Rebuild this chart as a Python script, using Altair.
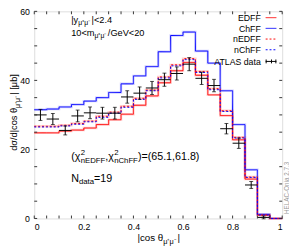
import altair as alt
import pandas as pd

# ---------------- data ----------------
bin_lo = [0.00, 0.05, 0.10, 0.15, 0.20, 0.25, 0.30, 0.35, 0.40, 0.45,
          0.50, 0.55, 0.60, 0.65, 0.70, 0.75, 0.80, 0.85, 0.90]
bin_end = [0.95, 1.00]

edff = [24.8, 24.8, 25.3, 25.6, 26.2, 27.2, 28.6, 30.2, 32.8, 35.5,
        39.3, 42.8, 45.2, 41.5, 35.8, 29.8, 22.8, 11.4, 1.0]
chff = [31.5, 31.7, 32.3, 33.0, 34.0, 35.0, 36.5, 39.0, 41.3, 44.0,
        48.3, 53.0, 54.0, 48.5, 45.0, 37.0, 27.2, 14.1, 1.2]
nedff = [26.7, 26.7, 27.0, 27.5, 28.2, 29.6, 30.8, 32.5, 34.8, 37.2,
         41.0, 44.5, 46.3, 42.6, 37.6, 31.2, 23.5, 12.0, 1.0]
nchff = [26.5, 26.5, 26.8, 27.3, 28.0, 29.3, 30.5, 32.2, 34.5, 37.0,
         40.7, 44.2, 46.0, 42.3, 37.3, 31.0, 23.3, 11.9, 1.0]

data_x = [0.025, 0.075, 0.125, 0.175, 0.225, 0.275, 0.325, 0.375, 0.425, 0.475,
          0.525, 0.575, 0.625, 0.675, 0.725, 0.775, 0.825, 0.875, 0.925]
data_y = [30.0, 28.8, 25.5, 29.7, 30.6, 30.5, 30.5, 35.2, 36.3, 37.8,
          40.2, 42.0, 44.7, 40.6, 38.5, 26.0, 21.8, 9.7, 0.3]
data_err = [1.6, 1.6, 1.3, 1.7, 1.7, 1.7, 1.7, 1.8, 1.8, 1.9,
            1.9, 1.9, 1.9, 1.8, 1.8, 1.5, 1.5, 1.0, 0.4]
half_bin = 0.025

series_names = ["EDFF", "ChFF", "nEDFF", "nChFF"]
series_vals = [edff, chff, nedff, nchff]
series_colors = ["#ff0000", "#0000ff", "#ff0000", "#0000ff"]
series_dash = [[1, 0], [1, 0], [2, 2], [2, 2]]
band_colors = ["#ff8888", "#8888ff", "#ff8888", "#8888ff"]
band_on = [True, True, True, False]

x_ticks = [0.0, 0.05, 0.1, 0.15, 0.2, 0.25, 0.3, 0.35, 0.4, 0.45, 0.5,
           0.55, 0.6, 0.65, 0.7, 0.75, 0.8, 0.85, 0.9, 0.95, 1.0]
x_labels = [0.0, 0.2, 0.4, 0.6, 0.8, 1.0]
y_ticks = [0, 5, 10, 15, 20, 25, 30, 35, 40, 45, 50, 55, 60]
y_labels = [0, 20, 40, 60]

W, H = 255, 213
FONT = "Liberation Sans"

# ---------------- tables ----------------
rows = []
for name, vals, c, bc, on in zip(series_names, series_vals, series_colors, band_colors, band_on):
    for xl, v in zip(bin_lo, vals):
        rows.append({"s": name, "x": xl, "y": v, "c": c, "bc": bc, "band": on})
    for xe in bin_end:
        rows.append({"s": name, "x": xe, "y": 0.0, "c": c, "bc": bc, "band": on})
lines_df = pd.DataFrame(rows)

pts = pd.DataFrame({
    "x": data_x, "y": data_y,
    "lo": [y - e for y, e in zip(data_y, data_err)],
    "hi": [y + e for y, e in zip(data_y, data_err)],
    "xl": [x - half_bin for x in data_x],
    "xh": [x + half_bin for x in data_x],
})

xs = alt.Scale(domain=[0, 1], nice=False, zero=False)
ys = alt.Scale(domain=[0, 60], nice=False, zero=False)
dash_s = alt.Scale(domain=series_names, range=series_dash)

base = alt.Chart(lines_df)

xaxis = alt.Axis(values=x_labels, ticks=False, domain=False, grid=False, title=None,
                 labelFont=FONT, labelFontSize=9, labelColor="black", labelPadding=4,
                 labelExpr="datum.value == 0 ? '0' : datum.value == 1 ? '1' : format(datum.value, '.1f')")
yaxis = alt.Axis(values=y_labels, ticks=False, domain=False, grid=False, title=None,
                 labelFont=FONT, labelFontSize=9, labelColor="black", labelPadding=5)

bands = base.transform_filter("datum.band").mark_line(
    interpolate="step-after", strokeWidth=2.5, opacity=0.4).encode(
    x=alt.X("x:Q", scale=xs, axis=xaxis),
    y=alt.Y("y:Q", scale=ys, axis=yaxis),
    color=alt.Color("bc:N", scale=None),
    detail="s:N",
    order=alt.Order("x:Q"),
)

lines = base.mark_line(interpolate="step-after", strokeWidth=1).encode(
    x=alt.X("x:Q", scale=xs),
    y=alt.Y("y:Q", scale=ys),
    color=alt.Color("c:N", scale=None),
    detail="s:N",
    strokeDash=alt.StrokeDash("s:N", scale=dash_s, legend=None),
    order=alt.Order("x:Q"),
)

pbase = alt.Chart(pts)
vbar = pbase.mark_rule(color="black", strokeWidth=1).encode(
    x=alt.X("x:Q", scale=xs), y=alt.Y("lo:Q", scale=ys), y2="hi:Q")
hbar = pbase.mark_rule(color="black", strokeWidth=1).encode(
    x=alt.X("xl:Q", scale=xs), x2="xh:Q", y=alt.Y("y:Q", scale=ys))
cap_lo = pbase.mark_tick(color="black", orient="horizontal", size=4, thickness=1).encode(
    x=alt.X("x:Q", scale=xs), y=alt.Y("lo:Q", scale=ys))
cap_hi = pbase.mark_tick(color="black", orient="horizontal", size=4, thickness=1).encode(
    x=alt.X("x:Q", scale=xs), y=alt.Y("hi:Q", scale=ys))

# inward ticks
yt = pd.DataFrame({"v": y_ticks})
xt = pd.DataFrame({"v": x_ticks})
tick_col = "#333333"
ytl = alt.Chart(yt).mark_rule(color=tick_col, strokeWidth=1).encode(
    y=alt.Y("v:Q", scale=ys), x=alt.value(0), x2=alt.value(3))
ytr = alt.Chart(yt).mark_rule(color=tick_col, strokeWidth=1).encode(
    y=alt.Y("v:Q", scale=ys), x=alt.value(W - 3), x2=alt.value(W))
xtb = alt.Chart(xt).mark_rule(color=tick_col, strokeWidth=1).encode(
    x=alt.X("v:Q", scale=xs), y=alt.value(H), y2=alt.value(H - 3))
xtt = alt.Chart(xt).mark_rule(color=tick_col, strokeWidth=1).encode(
    x=alt.X("v:Q", scale=xs), y=alt.value(0), y2=alt.value(3))

# ---------------- rich text helper ----------------
EM = {"|": .26, "y": .5, "<": .584, ">": .584, "2": .556, ".": .278, "4": .556, "μ": .576,
      "⁺": .4, "⁻": .4, "+": .584, "-": .333, "1": .556, "0": .556, "m": .833, "/": .278,
      "G": .778, "e": .556, "V": .667, "d": .556, "σ": .6, "c": .5, "o": .556, "s": .5,
      " ": .278, "θ": .556, "[": .278, "b": .556, "]": .278, "(": .333, ")": .333,
      "χ": .55, "n": .556, "E": .667, "D": .722, "F": .611, "C": .722, "h": .556,
      ",": .278, "=": .584, "5": .556, "6": .556, "8": .556, "N": .722, "a": .556,
      "t": .278, "9": .556}


def tw(s, size):
    return sum(EM.get(c, 0.556) for c in s) * size


def rich(groups, x0, y0, rotated=False, center=False):
    """groups: list of lists of (text, size, shift). Items of one group share the start."""
    total = 0.0
    for g in groups:
        total += max(tw(t, sz) for t, sz, sh in g)
    pos = -total / 2 if center else 0.0
    out = []
    for g in groups:
        for t, sz, sh in g:
            if rotated:
                out.append({"t": t, "fs": sz, "px": x0 + sh, "py": y0 - pos})
            else:
                out.append({"t": t, "fs": sz, "px": x0 + pos, "py": y0 + sh})
        pos += max(tw(t, sz) for t, sz, sh in g)
    return out


def text_layer(rows_, angle=0, color="black"):
    df = pd.DataFrame(rows_)
    kw = dict(align="left", baseline="alphabetic", font=FONT, color=color)
    if angle:
        kw["angle"] = angle
    return alt.Chart(df).mark_text(**kw).encode(
        x=alt.X("px:Q", scale=None), y=alt.Y("py:Q", scale=None),
        text="t:N", size=alt.Size("fs:Q", scale=None, legend=None))


OX, OY = 35, 8  # page position of plot origin
S, SS = 9.5, 7.0
sub = "μ⁺μ⁻"

ann = []
ann += rich([[("|y", S, 0)], [(sub, SS, 2.5)], [("|<2.4", S, 0)]], 73 - OX, 20 - OY)
ann += rich([[("10<m", S, 0)], [(sub, SS, 2.5)], [("/GeV<20", S, 0)]], 73 - OX, 33 - OY)
F, FS = 11, 8
ann += rich([[("(χ", F, 0)], [("2", FS, -5), ("nEDFF", FS, 3)], [(",χ", F, 0)],
             [("2", FS, -5), ("nChFF", FS, 3)], [(")=(65.1,61.8)", F, 0)]], 73 - OX, 161 - OY)
ann += rich([[("N", F, 0)], [("data", FS, 3)], [("=19", F, 0)]], 73 - OX, 183 - OY)
# x title
T, TS = 10, 7.5
ann += rich([[("|cos θ", T, 0)], [(sub, TS, 3)], [("|", T, 0)]], 163 - OX, 244 - OY, center=True)
ann_layer = text_layer(ann)

ytitle = rich([[("dσ/d|cos θ", 9.5, 0)], [(sub, 7, 3)], [("| [μb]", 9.5, 0)]],
              17 - OX, 112 - OY, rotated=True, center=True)
ytitle_layer = text_layer(ytitle, angle=270)

helac = rich([[("HELAC-Onia 2.7.3", 6.5, 0)]], 297 - OX, 190 - OY, rotated=True, center=True)
helac_layer = text_layer(helac, angle=270, color="#999999")

# ---------------- legend ----------------
leg_rows = [14.5, 25.5, 36.5, 47.5, 59.5]
leg_text = pd.DataFrame({"t": series_names + ["ATLAS data"],
                         "px": [268 - OX] * 5,
                         "py": [r - OY + 3.5 for r in leg_rows]})
leg_text_layer = alt.Chart(leg_text).mark_text(align="right", baseline="alphabetic", font=FONT,
                                               fontSize=9, color="black").encode(
    x=alt.X("px:Q", scale=None), y=alt.Y("py:Q", scale=None), text="t:N")

one = pd.DataFrame({"k": [0]})
lx0, lx1 = 273 - OX, 284 - OX
leg_layers = []
for i, (c, d) in enumerate(zip(series_colors, series_dash)):
    yy = leg_rows[i] - OY
    leg_layers.append(alt.Chart(one).mark_rule(color=c, strokeDash=d, strokeWidth=1).encode(
        x=alt.value(lx0), x2=alt.value(lx1), y=alt.value(yy)))
yy = leg_rows[4] - OY
leg_layers.append(alt.Chart(one).mark_rule(color="black", strokeWidth=1).encode(
    x=alt.value(lx0), x2=alt.value(lx1), y=alt.value(yy)))
for xv in [lx0 + 0.5, (lx0 + lx1) / 2 + 0.5, lx1 - 0.5]:
    leg_layers.append(alt.Chart(one).mark_rule(color="black", strokeWidth=1).encode(
        x=alt.value(xv), y=alt.value(yy - 2), y2=alt.value(yy + 2)))

chart = alt.layer(
    bands, lines, vbar, hbar, cap_lo, cap_hi,
    ytl, ytr, xtb, xtt,
    ann_layer, ytitle_layer, helac_layer, leg_text_layer, *leg_layers,
).properties(
    width=W, height=H,
    autosize=alt.AutoSizeParams(type="none"),
    padding={"left": 27, "top": 0, "right": 7, "bottom": 29},
).configure_view(stroke="#333333", strokeWidth=1).configure(background="white")

chart.save("out.html", embed_options={"renderer": "svg", "actions": False})
